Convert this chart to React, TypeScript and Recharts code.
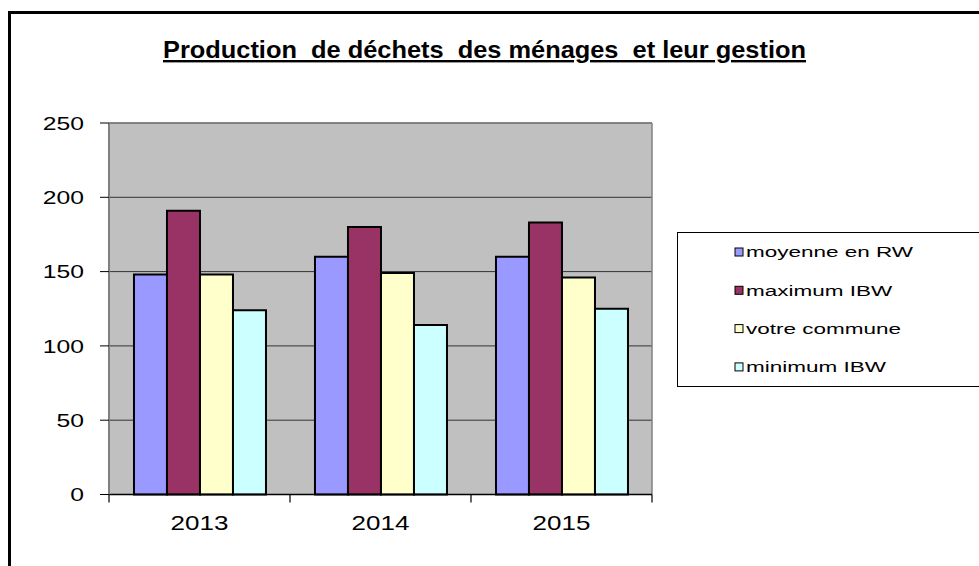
import React from 'react';
import { Bar, BarChart, CartesianGrid, Legend, XAxis, YAxis } from 'recharts';

const years = ['2013', '2014', '2015'];
const moyenneRW = [148, 160, 160];
const maximumIBW = [191, 180, 183];
const votreCommune = [148, 149, 146];
const minimumIBW = [124, 114, 125];
const yTicks = [0, 50, 100, 150, 200, 250];

const series = [
  { key: 'moyenne', name: 'moyenne en RW', values: moyenneRW, color: '#9999FF' },
  { key: 'maximum', name: 'maximum IBW', values: maximumIBW, color: '#993366' },
  { key: 'commune', name: 'votre commune', values: votreCommune, color: '#FFFFCC' },
  { key: 'minimum', name: 'minimum IBW', values: minimumIBW, color: '#CCFFFF' },
];

const data = years.map((year, i) => {
  const row: Record<string, string | number> = { year };
  series.forEach((s) => {
    row[s.key] = s.values[i];
  });
  return row;
});

const FONT = '"Liberation Sans", Arial, sans-serif';

function XTick(props: any) {
  const { x, y, payload, index, visibleTicksCount } = props;
  const half = payload?.offset || 90.5;
  return (
    <g>
      <line x1={x - half} x2={x - half} y1={y} y2={y + 8} stroke="#000" strokeWidth={1.2} />
      {index === visibleTicksCount - 1 && (
        <line x1={x + half} x2={x + half} y1={y} y2={y + 8} stroke="#000" strokeWidth={1.2} />
      )}
      <g transform={`translate(${x},${y + 35}) scale(1.3,1)`}>
        <text textAnchor="middle" fontSize={20} fill="#000" fontFamily={FONT}>
          {payload.value}
        </text>
      </g>
    </g>
  );
}

function YTick(props: any) {
  const { x, y, payload } = props;
  return (
    <g transform={`translate(${x},${y}) scale(1.3,1)`}>
      <text textAnchor="end" dy="0.36em" fontSize={19} fill="#000" fontFamily={FONT}>
        {payload.value}
      </text>
    </g>
  );
}

// legend keeps the series order (recharts would sort it by name)
function LegendBox() {
  return (
    <svg width={302} height={156} style={{ display: 'block' }}>
      <rect x={0.5} y={0.5} width={330} height={154} fill="#fff" stroke="#000" />
      {series.map((s, i) => (
        <g key={s.key} transform={`translate(58,${20 + i * 38.3})`}>
          <rect x={0} y={-4} width={8} height={8} fill={s.color} stroke="#000" strokeWidth={1} />
          <g transform="translate(11,0) scale(1.5,1)">
            <text dy="0.36em" fontSize={15} fill="#000" fontFamily={FONT}>
              {s.name}
            </text>
          </g>
        </g>
      ))}
    </svg>
  );
}

export default function App() {
  return (
    <div style={{ position: 'fixed', left: 0, top: 0, width: 979, height: 566, overflow: 'hidden', background: '#fff' }}>
      <div
        style={{
          position: 'absolute',
          left: 8,
          top: 11,
          width: 1100,
          height: 700,
          border: '3px solid #000',
        }}
      />
      <svg width={979} height={80} style={{ position: 'absolute', left: 0, top: 0 }}>
        <text
          x={484.5}
          y={58}
          textAnchor="middle"
          fontSize={24}
          fontWeight="bold"
          fontFamily={FONT}
          textLength={643}
          lengthAdjust="spacingAndGlyphs"
          style={{ textDecoration: 'underline', whiteSpace: 'pre' }}
        >
          {'Production  de déchets  des ménages  et leur gestion'}
        </text>
      </svg>
      <div style={{ position: 'absolute', left: 0, top: 0 }}>
        <BarChart
          width={979}
          height={566}
          data={data}
          margin={{ top: 123, right: 327, bottom: 21.5, left: 0 }}
          barCategoryGap="13.8%"
          barGap={0}
        >
          <CartesianGrid
            vertical={false}
            fill="#C0C0C0"
            fillOpacity={1}
            stroke="#333"
            strokeWidth={1}
          />
          <CartesianGrid
            horizontal={false}
            stroke="#808080"
            strokeWidth={1.5}
            verticalCoordinatesGenerator={({ offset }: any) => [offset.left + offset.width]}
          />
          <CartesianGrid
            vertical={false}
            stroke="#808080"
            strokeWidth={1.5}
            horizontalCoordinatesGenerator={({ offset }: any) => [offset.top]}
          />
          <XAxis
            dataKey="year"
            height={50}
            tickLine={false}
            tickSize={0}
            tickMargin={0}
            axisLine={{ stroke: '#000', strokeWidth: 1.5 }}
            tick={<XTick />}
            interval={0}
          />
          <YAxis
            width={109}
            domain={[0, 250]}
            ticks={yTicks}
            interval={0}
            tickSize={9}
            tickMargin={16}
            tickLine={{ stroke: '#000', strokeWidth: 1 }}
            axisLine={{ stroke: '#808080', strokeWidth: 2 }}
            tick={<YTick />}
          />
          <Legend
            layout="horizontal"
            verticalAlign="middle"
            align="center"
            content={<LegendBox />}
            wrapperStyle={{ left: 677, top: 232, width: 302, height: 156 }}
          />
          {series.map((s) => (
            <Bar
              key={s.key}
              dataKey={s.key}
              name={s.name}
              fill={s.color}
              stroke="#000"
              strokeWidth={2}
              isAnimationActive={false}
            />
          ))}
        </BarChart>
      </div>
    </div>
  );
}
